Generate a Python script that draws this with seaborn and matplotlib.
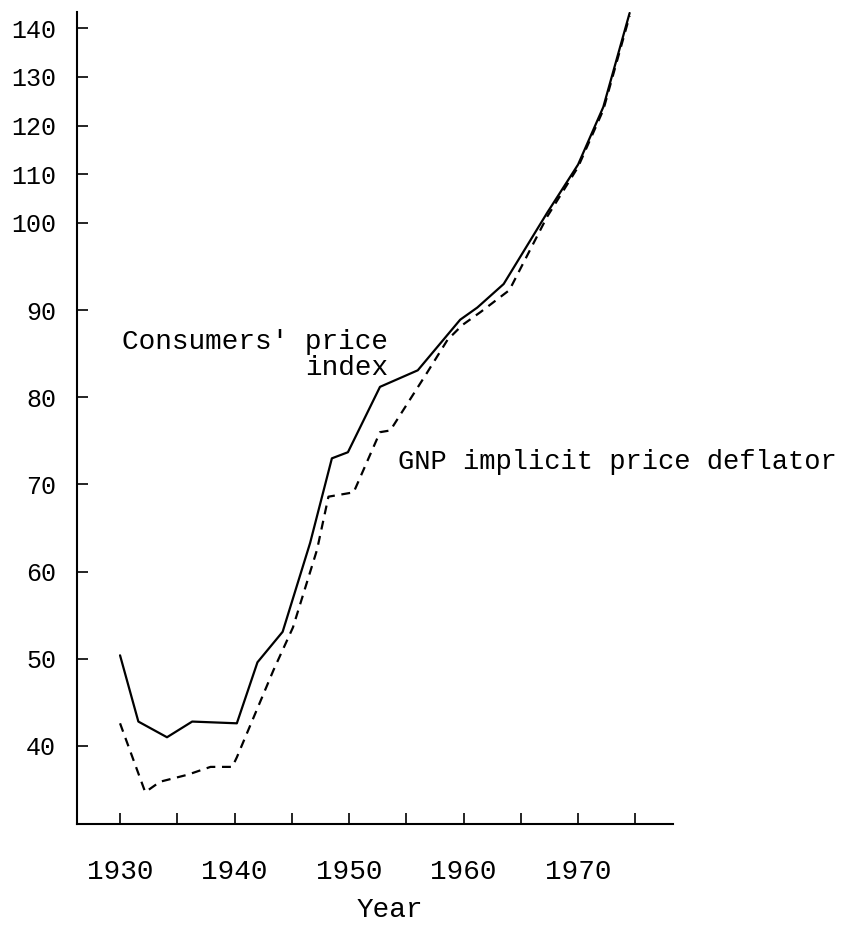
import numpy as np
import pandas as pd
import matplotlib
matplotlib.use("Agg")
import matplotlib.pyplot as plt
import seaborn as sns

# values (index, hand drawn)
cpi_years = [1930, 1931.6, 1934.1, 1936.3, 1940.2, 1942.0, 1944.2, 1946.6, 1948.5,
             1949.9, 1952.7, 1956.0, 1959.7, 1961.2, 1963.5, 1967.3, 1970.0, 1972.2, 1974.5]
cpi_values = [50.4, 42.8, 41.0, 42.8, 42.6, 49.6, 53.1, 63.3, 73.0,
              73.7, 81.2, 83.1, 88.9, 90.3, 93.0, 102.1, 112.0, 123.8, 143.1]

gnp_years = [1930, 1932.2, 1933.5, 1935.9, 1937.9, 1939.8, 1940.2, 1943.4, 1945.1, 1947.2,
             1948.2, 1950.4, 1952.7, 1953.6, 1956.8, 1958.6, 1959.9, 1961.5, 1964.0,
             1967.3, 1970.0, 1972.2, 1974.5]
gnp_values = [42.6, 34.7, 35.9, 36.7, 37.6, 37.6, 38.7, 48.7, 53.6, 62.5,
              68.6, 69.1, 76.0, 76.2, 82.8, 86.6, 88.3, 89.8, 92.3,
              101.3, 111.5, 123.2, 142.5]

x_ticks = [1930, 1935, 1940, 1945, 1950, 1955, 1960, 1965, 1970, 1975]
x_labels = ["1930", "", "1940", "", "1950", "", "1960", "", "1970", ""]
y_ticks = [40, 50, 60, 70, 80, 90, 100, 110, 120, 130, 140]

df = pd.concat([
    pd.DataFrame({"Year": cpi_years, "Index": cpi_values, "series": "cpi"}),
    pd.DataFrame({"Year": gnp_years, "Index": gnp_values, "series": "gnp"}),
])

sns.set_style("ticks")
plt.rcParams['font.family'] = ['Liberation Mono', 'DejaVu Sans Mono']
plt.rcParams['text.color'] = 'black'
plt.rcParams['xtick.direction'] = 'in'
plt.rcParams['ytick.direction'] = 'in'

# the scale above 100 is squeezed on the original
k = 0.559
def fwd(y):
    y = np.asarray(y, dtype=float)
    return np.where(y <= 100, y, 100 + (y - 100) * k)
def inv(z):
    z = np.asarray(z, dtype=float)
    return np.where(z <= 100, z, 100 + (z - 100) / k)

fig = plt.figure(figsize=(8.63, 9.32), dpi=100)
ax = fig.add_axes([0.0892, 0.1159, 0.6908, 0.8712])

sns.lineplot(data=df, x="Year", y="Index", hue="series", style="series",
             palette={"cpi": "black", "gnp": "black"},
             dashes={"cpi": "", "gnp": (4, 3)}, linewidth=1.6,
             legend=False, ax=ax, sort=False, estimator=None)

ax.set_yscale("function", functions=(fwd, inv))
ax.set_xlim(1926.24, 1978.3)
ax.set_ylim(31.05, 143.3)

ax.set_xticks(x_ticks)
ax.set_xticklabels(x_labels)
ax.set_yticks(y_ticks)
ax.set_yticklabels([str(v) for v in y_ticks])
ax.minorticks_off()

sns.despine(ax=ax)
for s in ["left", "bottom"]:
    ax.spines[s].set_linewidth(1.5)
    ax.spines[s].set_color("black")

ax.tick_params(axis="both", which="major", direction="in", length=8, width=1.2,
               colors="black", bottom=True, left=True)
ax.tick_params(axis="x", pad=25, labelsize=20)
ax.tick_params(axis="y", pad=15, labelsize=18)

ax.set_xlabel("")
ax.set_ylabel("")

ax.text(1953.4, 84.8, "Consumers' price\nindex", ha="right", va="center",
        multialignment="right", fontsize=20, linespacing=1.0, color="black")
ax.text(1954.3, 72.6, "GNP implicit price deflator", ha="left", va="center",
        fontsize=19.5, color="black")

fig.text(0.452, 0.024, "Year", ha="center", va="center", fontsize=20, color="black")

fig.savefig("out.png", dpi=100, facecolor="white")
